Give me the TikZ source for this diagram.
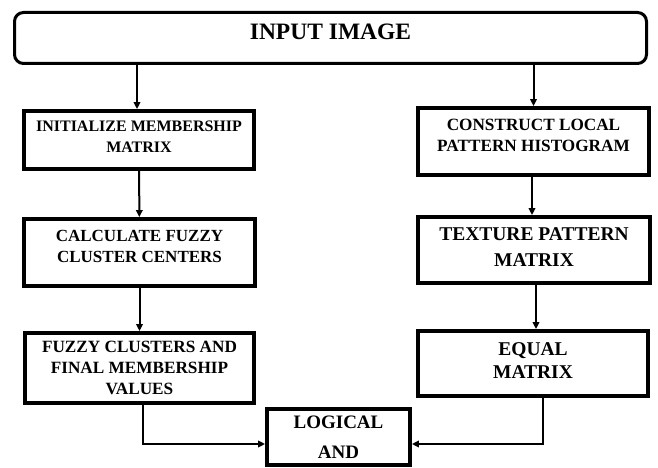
\documentclass[tikz,border=0pt]{standalone}
\usepackage{fontspec}
\setmainfont{Liberation Serif}
\usetikzlibrary{arrows.meta}
\begin{document}
\begin{tikzpicture}[x=1pt,y=-1pt,
  box/.style={draw,line width=3.8pt,rectangle,align=center,inner sep=0pt},
  conn/.style={line width=2pt,-{Triangle[length=7pt,width=6.5pt]}},
]
\useasboundingbox (0,0) rectangle (658,468);
\node[draw,line width=3pt,rounded corners=9pt,minimum width=632pt,minimum height=51pt,inner sep=0pt,
  font=\bfseries\fontsize{23.5}{28}\selectfont,text depth=13pt] (input) at (330.5,38) {INPUT IMAGE};

\node[box,minimum width=230pt,minimum height=58pt,text depth=7pt,
  font=\bfseries\fontsize{16}{20.5}\selectfont] (init) at (139,140) {INITIALIZE MEMBERSHIP\\MATRIX};
\node[box,minimum width=231pt,minimum height=67pt,text depth=12pt,
  font=\bfseries\fontsize{17.2}{20.5}\selectfont] (construct) at (533.5,141.5) {CONSTRUCT LOCAL\\PATTERN HISTOGRAM};
\node[box,minimum width=231pt,minimum height=67pt,text depth=12pt,
  font=\bfseries\fontsize{17}{21.5}\selectfont] (calc) at (139.5,252.5) {CALCULATE FUZZY\\CLUSTER CENTERS};
\node[box,minimum width=232pt,minimum height=66pt,text depth=6pt,
  font=\bfseries\fontsize{19.5}{25.5}\selectfont] (texture) at (534,250) {TEXTURE PATTERN\\MATRIX};
\node[box,minimum width=229pt,minimum height=70pt,
  font=\bfseries\fontsize{17.2}{21}\selectfont] (fuzzy) at (139.5,368) {FUZZY CLUSTERS AND\\FINAL MEMBERSHIP\\VALUES};
\node[box,minimum width=230pt,minimum height=65pt,text depth=5pt,
  font=\bfseries\fontsize{19.5}{23}\selectfont] (equal) at (533,363.5) {EQUAL\\MATRIX};
\node[box,minimum width=143pt,minimum height=56pt,
  font=\bfseries\fontsize{19}{30}\selectfont] (logical) at (338.5,437) {LOGICAL\\AND};

\draw[conn] ([xshift=-2pt]input.south -| init.north) -- ([xshift=-2pt]init.north);
\draw[conn] (input.south -| construct.north) -- (construct.north);
\draw[conn] (init) -- (calc);
\draw[conn] ([xshift=-1.5pt]construct.south) -- ([xshift=-1.5pt]construct.south |- texture.north);
\draw[conn] (calc) -- (fuzzy);
\draw[conn] ([xshift=2pt]texture.south) -- ([xshift=2pt]texture.south |- equal.north);
\draw[conn] ([xshift=3.5pt]fuzzy.south) |- ([yshift=-7pt]logical.west);
\draw[conn] ([xshift=10pt]equal.south) |- ([yshift=-7pt]logical.east);
\end{tikzpicture}
\end{document}
